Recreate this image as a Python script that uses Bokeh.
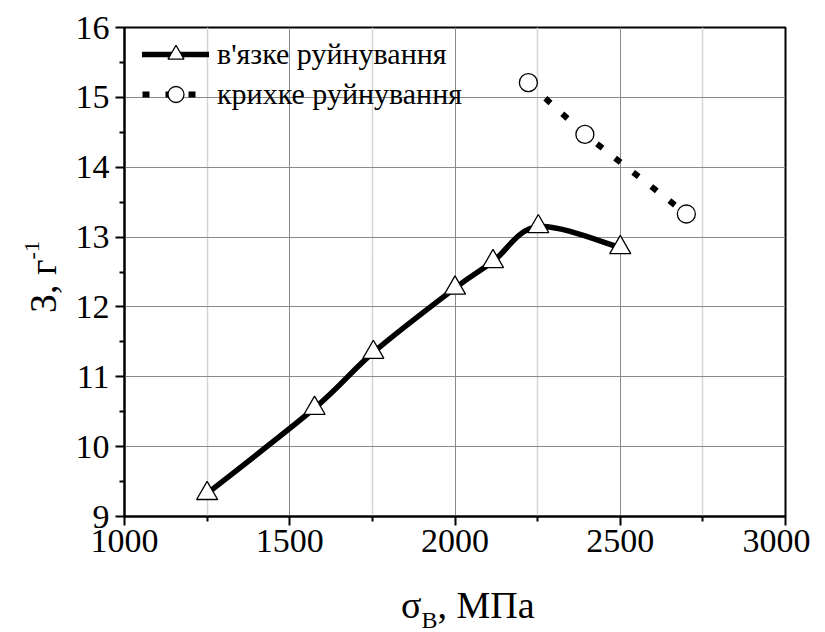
import numpy as np
from bokeh.plotting import figure
from bokeh.models import Range1d, Legend, LegendItem, FixedTicker, Div
from bokeh.layouts import row, column
from bokeh.embed import file_html
from bokeh.resources import INLINE

# ---- data ----
ductile_x = [1250, 1575, 1753, 2000, 2115, 2252, 2500]
ductile_y = [9.33, 10.55, 11.35, 12.27, 12.65, 13.15, 12.85]
brittle_x = [2222, 2393, 2700]
brittle_y = [15.21, 14.47, 13.33]
x_ticks = [1000, 1500, 2000, 2500, 3000]
x_minor = [1250, 1750, 2250, 2750]
y_ticks = [9, 10, 11, 12, 13, 14, 15, 16]
y_minor = [9.5, 10.5, 11.5, 12.5, 13.5, 14.5, 15.5]
label_ductile = "в'язке руйнування"
label_brittle = "крихке руйнування"
x_title_main, x_title_sub, x_title_unit = "σ", "В", ", МПа"
y_title_main, y_title_sup = "З, г", "-1"

FONT = "Liberation Serif"
YDIV_W = 52
p = figure(width=748, height=568, output_backend="svg", toolbar_location=None,
           x_range=Range1d(1000, 3000), y_range=Range1d(9, 16),
           frame_width=661, frame_height=489,
           min_border_left=62, min_border_top=27, min_border_right=25,
           min_border_bottom=52)
p.outline_line_color = "black"
p.outline_line_width = 2
p.background_fill_color = "white"
p.border_fill_color = "white"

for ax in (p.xaxis[0], p.yaxis[0]):
    ax.axis_line_width = 2
    ax.major_tick_line_width = 2
    ax.minor_tick_line_width = 2
    ax.major_tick_out = 9
    ax.major_tick_in = 0
    ax.minor_tick_out = 5
    ax.minor_tick_in = 0
    ax.major_label_text_font = FONT
    ax.major_label_text_font_size = "34px"
    ax.major_label_text_color = "black"
    ax.axis_label = None

p.xaxis[0].ticker = FixedTicker(ticks=x_ticks, minor_ticks=x_minor)
p.yaxis[0].ticker = FixedTicker(ticks=y_ticks, minor_ticks=y_minor)
p.xaxis[0].major_label_standoff = 4
p.yaxis[0].major_label_standoff = 6

p.xgrid.grid_line_color = "#8a8a8a"
p.ygrid.grid_line_color = "#8a8a8a"
p.xgrid.grid_line_width = 1
p.ygrid.grid_line_width = 1
p.xgrid.minor_grid_line_color = "#d4d4d4"
p.xgrid.minor_grid_line_width = 1.5
p.ygrid.minor_grid_line_color = None

# ---- smooth curve through ductile points (Catmull-Rom -> Bezier) ----
px = np.array(ductile_x, dtype=float)
py = np.array(ductile_y, dtype=float)
n = len(px)
ext_x = np.concatenate([[px[0]], px, [px[-1]]])
ext_y = np.concatenate([[py[0]], py, [py[-1]]])
x0, y0, x1, y1, cx0, cy0, cx1, cy1 = ([] for _ in range(8))
for i in range(n - 1):
    a = i + 1
    x0.append(ext_x[a]); y0.append(ext_y[a])
    x1.append(ext_x[a + 1]); y1.append(ext_y[a + 1])
    cx0.append(ext_x[a] + (ext_x[a + 1] - ext_x[a - 1]) / 6)
    cy0.append(ext_y[a] + (ext_y[a + 1] - ext_y[a - 1]) / 6)
    cx1.append(ext_x[a + 1] - (ext_x[a + 2] - ext_x[a]) / 6)
    cy1.append(ext_y[a + 1] - (ext_y[a + 2] - ext_y[a]) / 6)
curve = p.bezier(x0=x0, y0=y0, x1=x1, y1=y1, cx0=cx0, cy0=cy0, cx1=cx1, cy1=cy1,
                 line_color="black", line_width=5.5, line_cap="round")

tri = p.scatter(x=ductile_x, y=ductile_y, marker="triangle", size=21,
                fill_color="white", line_color="black", line_width=1.3)

dot_line = p.line(x=brittle_x, y=brittle_y, line_color="black", line_width=6,
                  line_dash="7 16", line_cap="butt")
circ = p.scatter(x=brittle_x, y=brittle_y, marker="circle", size=18,
                 fill_color="white", line_color="black", line_width=1.3)

legend = Legend(items=[LegendItem(label=label_ductile, renderers=[curve, tri]),
                       LegendItem(label=label_brittle, renderers=[dot_line, circ])],
                location=(18, 402))
legend.label_text_font = FONT
legend.label_text_font_size = "30px"
legend.label_text_color = "black"
legend.glyph_width = 67
legend.glyph_height = 40
legend.label_height = 30
legend.spacing = 0
legend.padding = 0
legend.margin = 0
legend.label_standoff = 8
legend.border_line_color = None
legend.background_fill_alpha = 0
p.add_layout(legend)

# ---- axis titles (HTML so that sub/superscripts are real text) ----
css_font = "font-family:'Liberation Serif','Times New Roman',Times,serif;color:black;"
xdiv = Div(width=748, height=60, text=(
    f'<div style="{css_font}font-size:38px;line-height:38px;white-space:nowrap;'
    f'padding-top:13px;padding-left:334px;">'
    f'{x_title_main}<span style="font-size:24px;position:relative;top:10px;">'
    f'{x_title_sub}</span>{x_title_unit}</div>'))
ydiv = Div(width=YDIV_W, height=568, text=(
    f'<div style="{css_font}font-size:38px;line-height:38px;white-space:nowrap;'
    f'width:max-content;transform-origin:0 0;'
    f'transform:translate(19px,308px) rotate(-90deg);">'
    f'{y_title_main}<span style="font-size:22px;position:relative;top:-17px;">'
    f'{y_title_sup}</span></div>'))

layout = row(ydiv, column(p, xdiv))
open("out.html", "w").write(file_html(layout, INLINE))
